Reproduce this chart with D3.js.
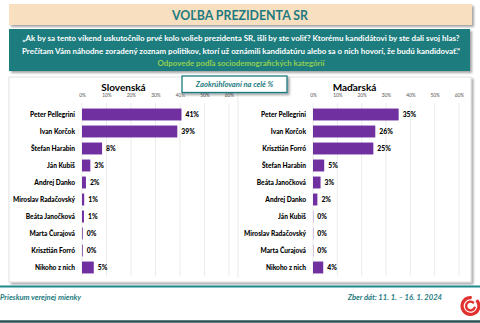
<!DOCTYPE html>
<html>
<head>
<meta charset="utf-8">
<script src="https://cdn.jsdelivr.net/npm/d3@7"></script>
<style>
  body { margin: 0; background: #fff; }
  svg { display: block; font-family: Lato, "Open Sans", sans-serif; }
</style>
</head>
<body>
<div id="chart"></div>
<script>
// candidates and shares (percent) per nationality group
var skNames = ["Peter Pellegrini", "Ivan Korčok", "Štefan Harabin", "Ján Kubiš", "Andrej Danko",
  "Miroslav Radačovský", "Beáta Janočková", "Marta Čurajová", "Krisztián Forró", "Nikoho z nich"];
var skValues = [40.6, 38.9, 8.2, 3.4, 1.6, 0.9, 0.8, 0.3, 0.3, 4.8];

var huNames = ["Peter Pellegrini", "Ivan Korčok", "Krisztián Forró", "Štefan Harabin", "Beáta Janočková",
  "Andrej Danko", "Ján Kubiš", "Miroslav Radačovský", "Marta Čurajová", "Nikoho z nich"];
var huValues = [35.2, 25.6, 24.8, 4.6, 3.1, 1.8, 0.1, 0.1, 0.1, 4.2];

var tickValues = [0, 10, 20, 30, 40, 50, 60];

var W = 480, H = 323;
var teal = "#1d7a7f", purple = "#7030a0";

var svg = d3.select("#chart").append("svg")
  .attr("width", W)
  .attr("height", H);

var defs = svg.append("defs");
var sh = defs.append("filter").attr("id", "shadow")
  .attr("x", "-5%").attr("y", "-5%").attr("width", "115%").attr("height", "130%");
sh.append("feDropShadow").attr("dx", 2).attr("dy", 2).attr("stdDeviation", 1.2)
  .attr("flood-color", "#000").attr("flood-opacity", 0.35);

// title banner
svg.append("rect").attr("x", 9).attr("y", 4).attr("width", 463).attr("height", 21)
  .attr("fill", "#f8dfbf").attr("filter", "url(#shadow)");
svg.append("text").attr("x", 240).attr("y", 19.5)
  .attr("text-anchor", "middle").attr("font-size", 13.5).attr("font-weight", "bold")
  .attr("fill", teal).attr("textLength", 136).attr("lengthAdjust", "spacingAndGlyphs")
  .text("VOĽBA PREZIDENTA SR");

// question box
svg.append("rect").attr("x", 9).attr("y", 29).attr("width", 461).attr("height", 42)
  .attr("fill", "#1f7b7e").attr("filter", "url(#shadow)");
var q = [
  { t: "„Ak by sa tento víkend uskutočnilo prvé kolo volieb prezidenta SR, išli by ste voliť? Ktorému kandidátovi by ste dali svoj hlas?", y: 41, len: 437, c: "#fff" },
  { t: "Prečítam Vám náhodne zoradený zoznam politikov, ktorí už oznámili kandidatúru alebo sa o nich hovorí, že budú kandidovať.“", y: 54, len: 438, c: "#fff" },
  { t: "Odpovede podľa sociodemografických kategórií", y: 65.5, len: 167, c: "#92d050" }
];
svg.selectAll(".q").data(q).enter().append("text")
  .attr("class", "q")
  .attr("x", 241).attr("y", d => d.y)
  .attr("text-anchor", "middle").attr("font-size", 7.8).attr("font-weight", "bold")
  .attr("fill", d => d.c)
  .attr("textLength", d => d.len).attr("lengthAdjust", "spacingAndGlyphs")
  .text(d => d.t);

// chart panel
svg.append("rect").attr("x", 9).attr("y", 77).attr("width", 462).attr("height", 205)
  .attr("fill", "#fff").attr("stroke", "#d9d9d9").attr("stroke-width", 0.8)
  .attr("filter", "url(#shadow)");
svg.append("line").attr("x1", 238).attr("x2", 238).attr("y1", 77).attr("y2", 278)
  .attr("stroke", "#e3e3e3").attr("stroke-width", 0.8);

function drawPanel(names, values, x0, x1, labelX, titleX, title) {
  var x = d3.scaleLinear().domain([0, 60]).range([x0, x1]);
  var y = d3.scaleBand().domain(names).range([106, 276])
    .paddingInner(0.3).paddingOuter(0.15);

  var g = svg.append("g");

  g.append("text").attr("x", titleX).attr("y", 90.5)
    .attr("text-anchor", "middle").attr("font-size", 10).attr("font-weight", "bold")
    .attr("fill", "#000").text(title);

  // vertical grid lines
  g.selectAll(".grid").data(tickValues).enter().append("line")
    .attr("x1", d => x(d)).attr("x2", d => x(d))
    .attr("y1", 103).attr("y2", 276)
    .attr("stroke", "#e6e6e6").attr("stroke-width", 0.8);

  // top axis
  var axis = d3.axisTop(x).tickValues(tickValues).tickSize(0).tickFormat(d => d + "%");
  var ag = g.append("g").attr("transform", "translate(0,100)").call(axis);
  ag.select(".domain").remove();
  ag.selectAll("text").attr("font-size", 4.8).attr("fill", "#555")
    .attr("font-family", "Lato, sans-serif").attr("dy", 0);

  g.selectAll(".bar").data(values).enter().append("rect")
    .attr("x", x(0))
    .attr("y", (d, i) => y(names[i]))
    .attr("width", d => Math.max(0, x(d) - x(0)))
    .attr("height", y.bandwidth())
    .attr("fill", purple);

  g.selectAll(".val").data(values).enter().append("text")
    .attr("x", d => x(d) + 4)
    .attr("y", (d, i) => y(names[i]) + y.bandwidth() / 2 + 2.4)
    .attr("font-size", 6.8).attr("font-weight", "900").attr("fill", "#000")
    .text(d => Math.round(d) + "%");

  g.selectAll(".name").data(names).enter().append("text")
    .attr("x", labelX)
    .attr("y", d => y(d) + y.bandwidth() / 2 + 2.4)
    .attr("text-anchor", "end")
    .attr("font-size", 6.6).attr("font-weight", "900").attr("fill", "#000")
    .text(d => d);
}

drawPanel(skNames, skValues, 82, 229, 75, 123.5, "Slovenská");
drawPanel(huNames, huValues, 313, 459, 306, 354.5, "Maďarská");

// rounding note
svg.append("rect").attr("x", 182).attr("y", 76).attr("width", 105).attr("height", 16.5)
  .attr("fill", "#fff").attr("stroke", teal).attr("stroke-width", 1.3)
  .attr("filter", "url(#shadow)");
svg.append("text").attr("x", 234.5).attr("y", 87.3)
  .attr("text-anchor", "middle").attr("font-size", 7.6).attr("font-weight", "bold")
  .attr("font-style", "italic").attr("fill", teal)
  .text("Zaokrúhľovaní na celé %");

// footer
svg.append("line").attr("x1", 0).attr("x2", W).attr("y1", 286.5).attr("y2", 286.5)
  .attr("stroke", "#1f8a8c").attr("stroke-width", 2);
svg.append("line").attr("x1", 0).attr("x2", W).attr("y1", 321.5).attr("y2", 321.5)
  .attr("stroke", "#2c5257").attr("stroke-width", 2.5);

svg.append("text").attr("x", 0).attr("y", 300)
  .attr("font-size", 7.6).attr("font-weight", "bold").attr("font-style", "italic")
  .attr("fill", teal).text("Prieskum verejnej mienky");
svg.append("text").attr("x", 442).attr("y", 300).attr("text-anchor", "end")
  .attr("font-size", 7.6).attr("font-weight", "bold").attr("font-style", "italic")
  .attr("fill", teal).text("Zber dát: 11. 1. – 16. 1. 2024");

// spiral logo, open towards the upper right
var logo = svg.append("g").attr("transform", "translate(470.5,306)");
var rings = [
  { r0: 6.8, r1: 10, a0: 0.8, a1: 2 * Math.PI + 0.15 },
  { r0: 3.2, r1: 5.6, a0: 1.7, a1: 2 * Math.PI + 0.9 }
];
logo.selectAll("path").data(rings).enter().append("path")
  .attr("d", d => d3.arc().innerRadius(d.r0).outerRadius(d.r1).startAngle(d.a0).endAngle(d.a1).cornerRadius(1)())
  .attr("fill", "#e1302d");
</script>
</body>
</html>
